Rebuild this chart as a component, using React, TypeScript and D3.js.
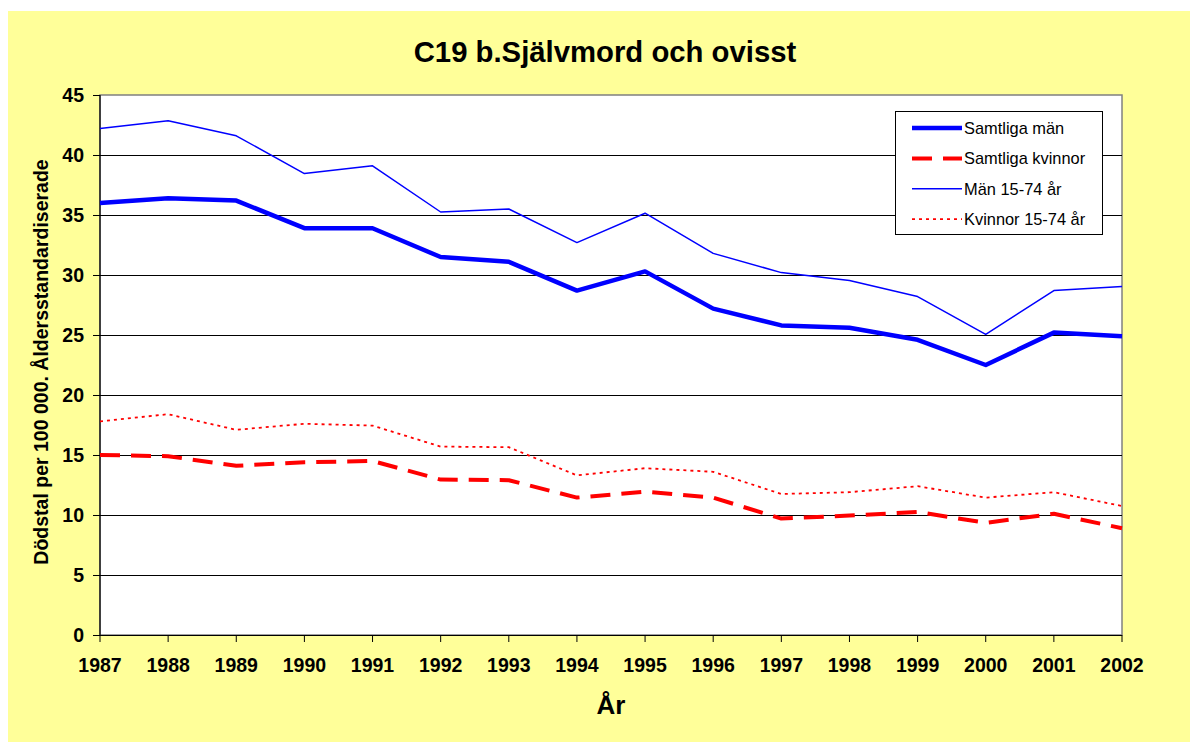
import React from 'react';
import * as d3 from 'd3';

// Values
const years = ['1987', '1988', '1989', '1990', '1991', '1992', '1993', '1994',
  '1995', '1996', '1997', '1998', '1999', '2000', '2001', '2002'];

const samtligaMan = [36.0, 36.4, 36.2, 33.9, 33.9, 31.5, 31.1, 28.7, 30.3, 27.2, 25.8, 25.6, 24.6, 22.5, 25.2, 24.9];
const samtligaKvinnor = [15.0, 14.9, 14.1, 14.4, 14.5, 12.95, 12.9, 11.45, 11.95, 11.45, 9.7, 9.95, 10.25, 9.35, 10.1, 8.9];
const man1574 = [42.2, 42.85, 41.6, 38.45, 39.1, 35.25, 35.5, 32.7, 35.15, 31.8, 30.2, 29.55, 28.2, 25.05, 28.7, 29.05];
const kvinnor1574 = [17.8, 18.4, 17.1, 17.6, 17.45, 15.7, 15.65, 13.3, 13.9, 13.6, 11.75, 11.9, 12.4, 11.45, 11.9, 10.75];

const yTicks = [0, 5, 10, 15, 20, 25, 30, 35, 40, 45];

const FONT = '"Liberation Sans", Arial, sans-serif';

const series = [
  { name: 'Samtliga män', values: samtligaMan, color: '#0000FF', width: 4.5, dash: '' },
  { name: 'Samtliga kvinnor', values: samtligaKvinnor, color: '#FF0000', width: 4, dash: '20,11' },
  { name: 'Män 15-74 år', values: man1574, color: '#0000FF', width: 1.5, dash: '' },
  { name: 'Kvinnor 15-74 år', values: kvinnor1574, color: '#FF0000', width: 1.8, dash: '3,4' },
];

export default function App() {
  const W = 1190;
  const H = 742;
  const plot = { left: 100, right: 1122, top: 95, bottom: 635 };

  const x = d3.scalePoint<string>().domain(years).range([plot.left, plot.right]);
  const y = d3.scaleLinear().domain([0, 45]).range([plot.bottom, plot.top]);

  const line = d3.line<number>()
    .x((_, i) => x(years[i]) as number)
    .y(d => y(d));

  const legend = { x: 895, y: 111, w: 207, h: 123 };

  return (
    <div style={{ position: 'absolute', left: 0, top: 0 }}>
      <svg width={W} height={H} style={{ display: 'block' }} fontFamily={FONT}>
        <rect x={8} y={11} width={W - 8} height={H - 11} fill="#FFFF99" />

        {/* title */}
        <text x={605} y={62} textAnchor="middle" fontSize={29.3} fontWeight="bold" fill="#000">
          C19 b.Självmord och ovisst
        </text>

        {/* plot area */}
        <rect x={plot.left} y={plot.top} width={plot.right - plot.left} height={plot.bottom - plot.top}
          fill="#fff" stroke="#808080" strokeWidth={1.5} />

        {/* gridlines */}
        {yTicks.filter(t => t > 0 && t < 45).map(t => (
          <line key={t} x1={plot.left} x2={plot.right} y1={y(t) + 0.5} y2={y(t) + 0.5}
            stroke="#000" strokeWidth={1} shapeRendering="crispEdges" />
        ))}

        {/* y axis */}
        <line x1={plot.left} x2={plot.left} y1={plot.top} y2={plot.bottom} stroke="#000" strokeWidth={1.2} />
        {yTicks.map(t => (
          <g key={t}>
            <line x1={plot.left - 7} x2={plot.left} y1={y(t) + 0.5} y2={y(t) + 0.5}
              stroke="#000" strokeWidth={1} shapeRendering="crispEdges" />
            <text x={84} y={y(t)} dy="0.35em" textAnchor="end" fontSize={19.5} fontWeight="bold" fill="#000">
              {t}
            </text>
          </g>
        ))}

        {/* x axis */}
        <line x1={plot.left} x2={plot.right} y1={plot.bottom + 0.5} y2={plot.bottom + 0.5}
          stroke="#000" strokeWidth={1.2} />
        {years.map(yr => (
          <g key={yr}>
            <line x1={x(yr)} x2={x(yr)} y1={plot.bottom} y2={plot.bottom + 7} stroke="#000" strokeWidth={1} />
            <text x={x(yr)} y={672} textAnchor="middle" fontSize={19.5} fontWeight="bold" fill="#000">
              {yr}
            </text>
          </g>
        ))}

        {/* axis titles */}
        <text x={611} y={714} textAnchor="middle" fontSize={26} fontWeight="bold" fill="#000">År</text>
        <text transform={`translate(48, ${(plot.top + plot.bottom) / 2 - 3}) rotate(-90)`}
          textAnchor="middle" fontSize={19.5} fontWeight="bold" fill="#000">
          Dödstal per 100 000. Åldersstandardiserade
        </text>

        {/* series */}
        {series.map(s => (
          <path key={s.name} d={line(s.values) || ''} fill="none" stroke={s.color}
            strokeWidth={s.width} strokeDasharray={s.dash || undefined} strokeLinejoin="round" />
        ))}

        {/* legend */}
        <rect x={legend.x + 0.5} y={legend.y + 0.5} width={legend.w} height={legend.h}
          fill="#fff" stroke="#000" strokeWidth={1} shapeRendering="crispEdges" />
        {series.map((s, i) => {
          const ly = 128 + i * 30.4;
          return (
            <g key={s.name}>
              <line x1={912} x2={962} y1={ly} y2={ly} stroke={s.color} strokeWidth={s.width}
                strokeDasharray={s.dash || undefined} />
              <text x={964} y={ly} dy="0.35em" fontSize={16.4} fill="#000">{s.name}</text>
            </g>
          );
        })}
      </svg>
    </div>
  );
}
